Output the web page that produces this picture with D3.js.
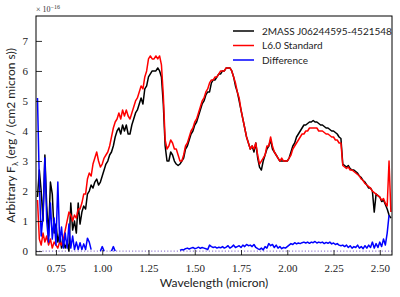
<!DOCTYPE html>
<html>
<head>
<meta charset="utf-8">
<script src="https://cdn.jsdelivr.net/npm/d3@7"></script>
<style>
  body { margin: 0; background: #fff; }
  svg { display: block; }
</style>
</head>
<body>
<script>
// wavelength grid (micron), 0.01 step from 0.65 to 2.56
var wave = d3.range(0, 192).map(function(i) { return +(0.65 + i * 0.01).toFixed(2); });

// target spectrum (black), units of 1e-16
var fluxTarget = [
  1.8, 2.7, 2.0, 1.0, 3.2, 1.5, 0.5, 2.3, 1.9, 0.6,
  0.9, 0.3, 0.6, 0.1, 0.3, 0.1, 0.3, 0.0, 1.6, 0.7,
  1.0, 0.6, 1.6, 0.9, 1.3, 1.5, 1.4, 1.9, 2.0, 2.2,
  2.1, 2.3, 2.4, 2.2, 2.3, 2.5, 2.7, 2.9, 3.0, 3.2,
  3.3, 3.5, 3.8, 4.0, 4.1, 3.9, 4.2, 4.0, 4.2, 3.9,
  3.9, 4.2, 4.4, 4.6, 4.7, 4.9, 5.1, 4.9, 5.4, 5.5,
  5.8, 5.9, 6.0, 6.0, 6.0, 6.1, 6.0, 5.8, 4.9, 3.5,
  3.0, 3.0, 3.3, 3.2, 3.0, 2.9, 2.85, 2.9, 3.0, 3.1,
  3.4, 3.5, 3.7, 3.9, 4.0, 4.2, 4.3, 4.5, 4.7, 4.9,
  5.0, 5.2, 5.3, 5.3, 5.6, 5.7, 5.7, 5.8, 5.9, 5.9,
  6.0, 6.0, 6.1, 6.1, 6.1, 6.0, 5.8, 5.5, 5.3, 5.0,
  4.7, 4.4, 4.1, 3.8, 3.6, 3.4, 3.5, 3.3, 3.6, 3.1,
  2.8, 2.7, 3.0, 3.2, 3.4, 3.5, 3.7, 3.4, 3.3, 3.2,
  3.1, 3.0, 3.0, 3.0, 3.0, 3.0, 3.1, 3.3, 3.5, 3.6,
  3.8, 3.9, 4.0, 4.1, 4.2, 4.2, 4.25, 4.3, 4.3, 4.35,
  4.3, 4.3, 4.25, 4.2, 4.2, 4.15, 4.1, 4.1, 4.05, 4.0,
  4.0, 3.95, 3.9, 3.8, 3.75, 2.9, 2.85, 2.8, 2.85, 2.75,
  2.7, 2.7, 2.65, 2.6, 2.5, 2.45, 2.35, 2.3, 2.2, 2.1,
  2.1, 2.0, 1.3, 1.9, 1.85, 1.8, 1.65, 1.7, 1.55, 1.4,
  1.2, 1.1
];

// L6.0 standard (red)
var fluxStandard = [
  1.7, 0.4, 0.2, 0.6, 0.3, 0.5, 0.2, 0.4, 0.1, 0.3,
  0.2, 0.1, 0.3, 0.2, 0.4, 0.7, 1.0, 1.3, 1.2, 1.0,
  1.2, 1.1, 1.4, 1.4, 1.6, 1.9, 1.9, 2.4, 2.6, 2.5,
  2.9, 3.1, 3.3, 3.0, 2.8, 2.9, 3.1, 3.2, 3.3, 3.5,
  3.8, 4.1, 4.3, 4.4, 4.6, 4.4, 4.7, 4.5, 4.7, 4.5,
  4.4, 4.6, 4.8, 5.0, 5.1, 5.3, 5.5, 5.4, 5.8, 6.0,
  6.4, 6.5, 6.4, 6.4, 6.5, 6.4, 6.5, 6.2, 5.2, 3.7,
  3.4, 3.5, 3.7, 3.6, 3.4, 3.4, 3.2, 3.0, 3.0, 3.2,
  3.5, 3.6, 3.8, 4.0, 4.1, 4.3, 4.4, 4.6, 4.8, 5.0,
  5.1, 5.3, 5.4, 5.6, 5.7, 5.7, 5.8, 5.8, 5.9, 6.0,
  6.0, 6.0, 6.1, 6.1, 6.1, 6.0, 5.8, 5.6, 5.3, 5.1,
  4.7, 4.4, 4.1, 3.8, 3.6, 3.4, 3.5, 3.4, 3.6, 3.2,
  2.9, 3.0, 3.1, 3.2, 3.5, 3.5, 3.8, 3.5, 3.3, 3.2,
  3.1, 3.0, 3.1, 3.0, 3.0, 3.0, 3.1, 3.2, 3.4, 3.5,
  3.6, 3.7, 3.8, 3.9, 3.9, 4.0, 4.0, 4.1, 4.1, 4.1,
  4.1, 4.1, 4.0, 4.0, 4.0, 3.95, 3.9, 3.9, 3.85, 3.8,
  3.8, 3.7, 3.7, 3.6, 3.6, 2.85, 2.8, 2.75, 2.8, 2.7,
  2.7, 2.65, 2.6, 2.55, 2.5, 2.4, 2.35, 2.25, 2.2, 2.15,
  2.1, 2.0, 1.95, 1.9, 1.85, 1.8, 1.7, 1.75, 1.6, 1.5,
  3.0, 1.3
];

// difference (blue); null where it is not plotted
var fluxDiff = [
  5.1, 2.3, 0.5, 1.2, 3.1, 1.0, 0.3, 1.6, 0.4, 1.1,
  0.2, 2.3, 0.3, 0.8, 0.1, 0.6, 0.1, 0.9, 0.1, 0.5,
  0.05, 0.3, 0.05, 0.28, 0.05, 0.24, 0.05, 0.43, 0.3, 0.05,
  null, null, null, null, 0.0, 0.15, 0.0, null, null, null,
  0.0, 0.15, 0.0, null, null, null, null, null, null, null,
  null, null, null, null, null, null, null, null, null, null,
  null, null, null, null, null, null, null, null, null, null,
  null, null, null, null, null, null, null, 0.03, 0.05,
  0.04, 0.08, 0.1, 0.07, 0.1, 0.12, 0.08, 0.1, 0.13, 0.09,
  0.12, 0.1, 0.08, 0.05, 0.2, 0.15, 0.12, 0.14, 0.1, 0.13,
  0.11, 0.15, 0.1, 0.13, 0.18, 0.1, 0.14, 0.2, 0.12, 0.15,
  0.18, 0.12, 0.2, 0.15, 0.22, 0.18, 0.2, 0.15, 0.22, 0.12,
  0.08, 0.05, 0.1, 0.04, 0.15, 0.1, 0.25, 0.18, 0.22, 0.12,
  0.2, 0.1, 0.15, 0.08, 0.12, 0.1, 0.15, 0.2, 0.25, 0.22,
  0.28, 0.24, 0.27, 0.25, 0.28, 0.3, 0.27, 0.3, 0.26, 0.3,
  0.28, 0.32, 0.27, 0.3, 0.28, 0.3, 0.25, 0.29, 0.26, 0.3,
  0.24, 0.27, 0.22, 0.25, 0.2, 0.18, 0.2, 0.15, 0.2, 0.12,
  0.18, 0.1, 0.15, 0.12, 0.2, 0.1, 0.15, 0.08, 0.18, 0.1,
  0.2, 0.12, 0.3, 0.1, 0.25, 0.12, 0.3, 0.15, 0.4, 0.2,
  0.6, 1.2
];

var xTicks = [0.75, 1.00, 1.25, 1.50, 1.75, 2.00, 2.25, 2.50];
var yTicks = [0, 1, 2, 3, 4, 5, 6, 7];
var legendNames = ["2MASS J06244595-4521548", "L6.0 Standard", "Difference"];
var legendColors = ["#000000", "#ff0000", "#0000ff"];

// set the dimensions and margins of the plot
var margin = {top: 16, right: 8, bottom: 42, left: 36},
    width = 400 - margin.left - margin.right,
    height = 297 - margin.top - margin.bottom;

var svg = d3.select("body").append("svg")
    .attr("width", 400)
    .attr("height", 297);

var g = svg.append("g")
    .attr("transform", "translate(" + margin.left + "," + margin.top + ")");

var x = d3.scaleLinear().domain([0.642, 2.566]).range([0, width]);
var y = d3.scaleLinear().domain([-0.13, 7.83]).range([height, 0]);

g.append("clipPath").attr("id", "clip")
  .append("rect").attr("width", width).attr("height", height);

var plot = g.append("g").attr("clip-path", "url(#clip)");

// zero line
plot.append("line")
  .attr("x1", 0).attr("x2", width)
  .attr("y1", y(0)).attr("y2", y(0))
  .attr("stroke", "#7b5cc4")
  .attr("stroke-width", 1)
  .attr("stroke-dasharray", "1.2,2");

function makeLine(vals) {
  return d3.line()
    .defined(function(d, i) { return vals[i] !== null; })
    .x(function(d, i) { return x(wave[i]); })
    .y(function(d, i) { return y(vals[i]); })(vals);
}

var series = [fluxTarget, fluxStandard, fluxDiff];
series.forEach(function(s, k) {
  plot.append("path")
    .attr("d", makeLine(s))
    .attr("fill", "none")
    .attr("stroke", legendColors[k])
    .attr("stroke-width", 1.5)
    .attr("stroke-linejoin", "round");
});

// axes, ticks pointing in
var xAxis = g.append("g")
  .attr("transform", "translate(0," + height + ")")
  .call(d3.axisBottom(x).tickValues(xTicks).tickSizeInner(-5).tickSizeOuter(0)
    .tickPadding(9).tickFormat(d3.format(".2f")));

var yAxis = g.append("g")
  .call(d3.axisLeft(y).tickValues(yTicks).tickSizeInner(-6).tickSizeOuter(0)
    .tickPadding(8).tickFormat(d3.format("d")));

[xAxis, yAxis].forEach(function(a) {
  a.select(".domain").remove();
  a.selectAll("line").attr("stroke", "#000").attr("stroke-width", 0.8);
  a.selectAll("text")
    .attr("fill", "#222")
    .style("font-family", "'Liberation Serif', 'DejaVu Serif', serif")
    .style("font-size", "11px");
});

// frame
g.append("rect")
  .attr("width", width).attr("height", height)
  .attr("fill", "none").attr("stroke", "#000").attr("stroke-width", 1);

// offset text
var off = svg.append("text")
  .attr("x", 36).attr("y", 12)
  .style("font-family", "'Liberation Serif', serif")
  .style("font-size", "8px")
  .attr("fill", "#333");
off.append("tspan").text("\u00d7 10");
off.append("tspan").attr("dy", -3).style("font-size", "6px").text("\u221216");

// axis labels
svg.append("text")
  .attr("x", margin.left + width / 2).attr("y", 287)
  .attr("text-anchor", "middle")
  .style("font-family", "Lato, 'DejaVu Sans', sans-serif")
  .style("font-size", "12px")
  .attr("fill", "#222")
  .text("Wavelength (micron)");

var yl = svg.append("text")
  .attr("transform", "translate(15," + (margin.top + height / 2) + ") rotate(-90)")
  .attr("text-anchor", "middle")
  .style("font-family", "Lato, 'DejaVu Sans', sans-serif")
  .style("font-size", "12px")
  .attr("fill", "#222");
yl.append("tspan").text("Arbitrary F");
yl.append("tspan").attr("dy", 3).style("font-size", "8px").text("\u03bb");
yl.append("tspan").attr("dy", -3).text(" (erg / (cm2 micron s))");

// legend
var leg = g.append("g").attr("transform", "translate(197,15)");
legendNames.forEach(function(name, i) {
  var row = leg.append("g").attr("transform", "translate(0," + (i * 14.5) + ")");
  row.append("line")
    .attr("x1", 0).attr("x2", 21)
    .attr("stroke", legendColors[i]).attr("stroke-width", 1.5);
  row.append("text")
    .attr("x", 29).attr("y", 3.5)
    .style("font-family", "Lato, 'DejaVu Sans', sans-serif")
    .style("font-size", "10px")
    .attr("fill", "#222")
    .text(name);
});
</script>
</body>
</html>
